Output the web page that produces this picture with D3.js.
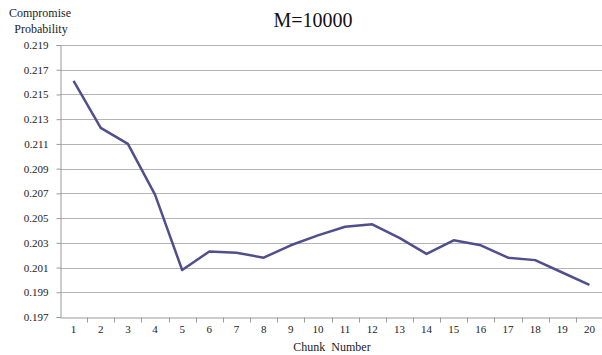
<!DOCTYPE html>
<html>
<head>
<meta charset="utf-8">
<script src="https://cdn.jsdelivr.net/npm/d3@7"></script>
<style>
  body { margin: 0; background: #fff; }
</style>
</head>
<body>
<svg id="chart"></svg>
<script>
// chunk numbers and the compromise probability for each
const chunks = d3.range(1, 21);
const probability = [0.2161, 0.2123, 0.2110, 0.2069, 0.2008, 0.2023, 0.2022, 0.2018, 0.2028, 0.2036,
  0.2043, 0.2045, 0.2034, 0.2021, 0.2032, 0.2028, 0.2018, 0.2016, 0.2006, 0.1996];
const yTicks = [0.197, 0.199, 0.201, 0.203, 0.205, 0.207, 0.209, 0.211, 0.213, 0.215, 0.217, 0.219];

const width = 602, height = 355;
const margin = { top: 45, right: -1, bottom: 38, left: 60 };
const serif = "'Liberation Serif', 'Times New Roman', serif";

const svg = d3.select("#chart")
    .attr("width", width)
    .attr("height", height)
    .attr("font-family", serif);

const x = d3.scaleBand()
    .domain(chunks)
    .range([margin.left, width - margin.right]);

const y = d3.scaleLinear()
    .domain([0.197, 0.219])
    .range([height - margin.bottom, margin.top]);

// gridlines
svg.append("g")
    .selectAll("line")
    .data(yTicks.slice(1))
    .join("line")
    .attr("x1", margin.left)
    .attr("x2", width)
    .attr("y1", d => Math.round(y(d)) + 0.5)
    .attr("y2", d => Math.round(y(d)) + 0.5)
    .attr("stroke", "#b4b4b4")
    .attr("stroke-width", 1.2);

// y axis
const yAxis = svg.append("g")
    .attr("transform", `translate(${margin.left + 0.5},0)`)
    .call(d3.axisLeft(y).tickValues(yTicks).tickFormat(d3.format(".3f")).tickSize(4).tickPadding(8))
    .attr("font-family", serif);
yAxis.select(".domain").attr("stroke", "#9a9a9a");
yAxis.selectAll(".tick line").attr("stroke", "#9a9a9a");
yAxis.selectAll("text").attr("font-size", 11).attr("fill", "#222");

// x axis, ticks between categories
const xAxis = svg.append("g")
    .attr("transform", `translate(0,${Math.round(y(0.197)) + 0.5})`)
    .call(d3.axisBottom(x).tickSize(0).tickPadding(8))
    .attr("font-family", serif);
xAxis.select(".domain").attr("stroke", "#9a9a9a");
xAxis.selectAll("text").attr("font-size", 11).attr("fill", "#222");
xAxis.selectAll(".sep")
    .data(chunks)
    .join("line")
    .attr("class", "sep")
    .attr("x1", d => Math.round(x(d) + x.bandwidth()) + 0.5)
    .attr("x2", d => Math.round(x(d) + x.bandwidth()) + 0.5)
    .attr("y1", 0)
    .attr("y2", 5)
    .attr("stroke", "#9a9a9a");

// line
const line = d3.line()
    .x((d, i) => x(chunks[i]) + x.bandwidth() / 2)
    .y(d => y(d));

svg.append("path")
    .datum(probability)
    .attr("fill", "none")
    .attr("stroke", "#4f4f8e")
    .attr("stroke-width", 2.5)
    .attr("stroke-linejoin", "round")
    .attr("d", line);

// titles
svg.append("text")
    .attr("x", 313)
    .attr("y", 27)
    .attr("text-anchor", "middle")
    .attr("font-size", 20)
    .attr("fill", "#111")
    .text("M=10000");

svg.append("text")
    .attr("x", 40)
    .attr("y", 17)
    .attr("text-anchor", "middle")
    .attr("font-size", 12)
    .attr("fill", "#222")
    .text("Compromise");
svg.append("text")
    .attr("x", 41)
    .attr("y", 33)
    .attr("text-anchor", "middle")
    .attr("font-size", 12)
    .attr("fill", "#222")
    .text("Probability");

svg.append("text")
    .attr("x", 332)
    .attr("y", 351)
    .attr("text-anchor", "middle")
    .attr("font-size", 12)
    .attr("fill", "#222")
    .attr("word-spacing", 3)
    .text("Chunk Number");
</script>
</body>
</html>
